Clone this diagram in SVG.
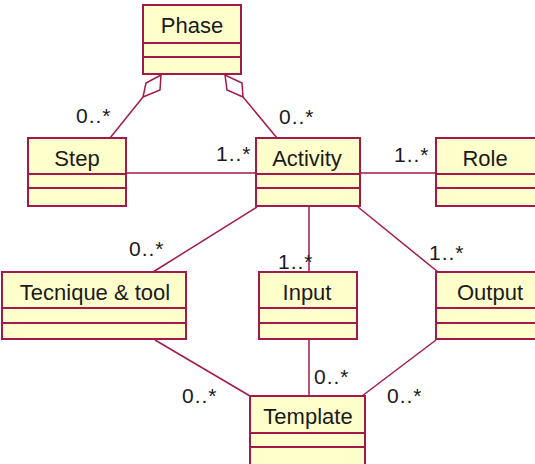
<svg xmlns="http://www.w3.org/2000/svg" width="535" height="464" viewBox="0 0 535 464">
<style>
.box{fill:#ffffcc;stroke:#a3194b;stroke-width:2}
.sep{stroke:#a3194b;stroke-width:2}
.ln{stroke:#a3194b;stroke-width:1.5;fill:none}
.dia{fill:#ffffff;stroke:#a3194b;stroke-width:1.5}
.nm{font-family:"Liberation Sans",Arial,sans-serif;font-size:22px;fill:#1a1a1a;text-anchor:middle}
.lb{font-family:"Liberation Sans",Arial,sans-serif;font-size:21px;fill:#1a1a1a;letter-spacing:1px}
</style>
<rect width="535" height="464" fill="#ffffff"/>
<g id="connectors">
<polygon class="dia" points="161,75 146,83 143,97 160,90"/>
<line class="ln" x1="143" y1="97" x2="110" y2="138"/>
<polygon class="dia" points="225,75 227,90 243,97 242,83"/>
<line class="ln" x1="243" y1="97" x2="277" y2="138"/>
<line class="ln" x1="127" y1="173" x2="256" y2="173"/>
<line class="ln" x1="361" y1="173" x2="436" y2="173"/>
<line class="ln" x1="257" y1="207" x2="153" y2="272"/>
<line class="ln" x1="309" y1="207" x2="309" y2="272"/>
<line class="ln" x1="358" y1="207" x2="438" y2="272"/>
<line class="ln" x1="155" y1="340" x2="250" y2="396"/>
<line class="ln" x1="309" y1="340" x2="309" y2="396"/>
<line class="ln" x1="436" y1="340" x2="362" y2="396"/>
<text class="lb" x="76" y="123">0..*</text>
<text class="lb" x="279" y="124">0..*</text>
<text class="lb" x="216" y="161">1..*</text>
<text class="lb" x="394" y="162">1..*</text>
<text class="lb" x="129" y="256">0..*</text>
<text class="lb" x="278" y="269">1..*</text>
<text class="lb" x="429" y="260">1..*</text>
<text class="lb" x="182" y="403">0..*</text>
<text class="lb" x="314" y="384">0..*</text>
<text class="lb" x="387" y="403">0..*</text>
</g>
<g id="phase">
<rect class="box" x="143" y="5" width="98" height="69"/>
<line class="sep" x1="143" y1="43" x2="241" y2="43"/>
<line class="sep" x1="143" y1="57" x2="241" y2="57"/>
<text class="nm" x="192" y="33">Phase</text>
</g>
<g id="step">
<rect class="box" x="28" y="138" width="98" height="68"/>
<line class="sep" x1="28" y1="174" x2="126" y2="174"/>
<line class="sep" x1="28" y1="188" x2="126" y2="188"/>
<text class="nm" x="77" y="166">Step</text>
</g>
<g id="activity">
<rect class="box" x="256" y="138" width="104" height="68"/>
<line class="sep" x1="256" y1="174" x2="360" y2="174"/>
<line class="sep" x1="256" y1="188" x2="360" y2="188"/>
<text class="nm" x="307" y="166">Activity</text>
</g>
<g id="role">
<rect class="box" x="436" y="138" width="102" height="68"/>
<line class="sep" x1="436" y1="174" x2="538" y2="174"/>
<line class="sep" x1="436" y1="188" x2="538" y2="188"/>
<text class="nm" x="485" y="166">Role</text>
</g>
<g id="tecnique">
<rect class="box" x="2" y="272" width="184" height="67"/>
<line class="sep" x1="2" y1="308" x2="186" y2="308"/>
<line class="sep" x1="2" y1="323" x2="186" y2="323"/>
<text class="nm" x="95" y="300">Tecnique &amp; tool</text>
</g>
<g id="input">
<rect class="box" x="259" y="272" width="98" height="67"/>
<line class="sep" x1="259" y1="308" x2="357" y2="308"/>
<line class="sep" x1="259" y1="323" x2="357" y2="323"/>
<text class="nm" x="307" y="300">Input</text>
</g>
<g id="output">
<rect class="box" x="436" y="272" width="110" height="67"/>
<line class="sep" x1="436" y1="308" x2="546" y2="308"/>
<line class="sep" x1="436" y1="323" x2="546" y2="323"/>
<text class="nm" x="490" y="300">Output</text>
</g>
<g id="template">
<rect class="box" x="250" y="396" width="115" height="70"/>
<line class="sep" x1="250" y1="433" x2="365" y2="433"/>
<line class="sep" x1="250" y1="447" x2="365" y2="447"/>
<text class="nm" x="308" y="424">Template</text>
</g>
</svg>
